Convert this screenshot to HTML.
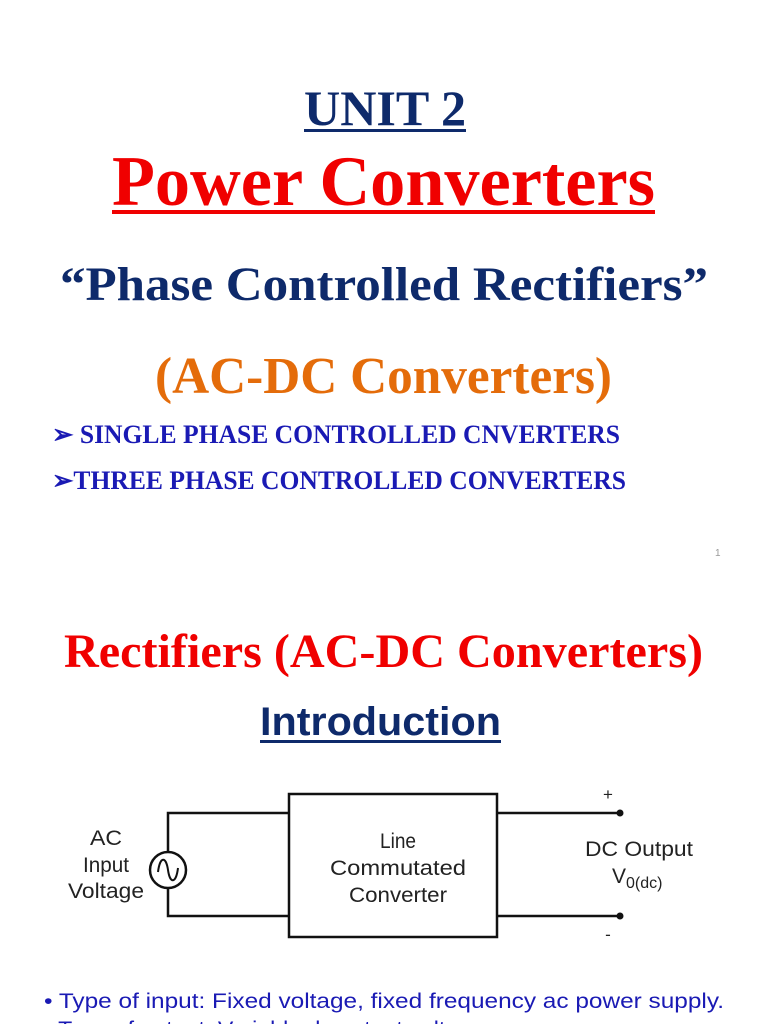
<!DOCTYPE html>
<html><head><meta charset="utf-8"><style>html,body{margin:0;padding:0;background:#fff}svg{display:block}</style></head>
<body>
<svg width="768" height="1024" viewBox="0 0 768 1024" xmlns="http://www.w3.org/2000/svg">
<g font-family="Liberation Serif, serif" font-weight="bold">
<text x="304" y="125" font-size="50" fill="#0e2a6b" textLength="162" lengthAdjust="spacingAndGlyphs">UNIT 2</text>
<rect x="304" y="129" width="162" height="3" fill="#0e2a6b"/>
<text x="112" y="205" font-size="71" fill="#f00000" textLength="543" lengthAdjust="spacingAndGlyphs">Power Converters</text>
<rect x="112" y="210" width="543" height="4" fill="#f00000"/>
<text x="60" y="300" font-size="48" fill="#0e2a6b" textLength="648" lengthAdjust="spacingAndGlyphs">“Phase Controlled Rectifiers”</text>
<text x="155" y="393" font-size="52" fill="#e46c0a" textLength="457" lengthAdjust="spacingAndGlyphs">(AC-DC Converters)</text>
<text x="52" y="443" font-size="26" fill="#1a1ab4" textLength="568" lengthAdjust="spacingAndGlyphs">➢ SINGLE PHASE CONTROLLED CNVERTERS</text>
<text x="52" y="489" font-size="26" fill="#1a1ab4" textLength="574" lengthAdjust="spacingAndGlyphs">➢THREE PHASE CONTROLLED CONVERTERS</text>
<text x="64" y="667" font-size="48" fill="#f00000" textLength="639" lengthAdjust="spacingAndGlyphs">Rectifiers (AC-DC Converters)</text>
</g>
<text x="715" y="556" font-size="10" fill="#999" font-family="Liberation Sans, sans-serif">1</text>
<text x="260" y="735" font-size="40" font-weight="bold" fill="#0e2a6b" font-family="Liberation Sans, sans-serif" textLength="241" lengthAdjust="spacingAndGlyphs">Introduction</text>
<rect x="260" y="740" width="241" height="3" fill="#0e2a6b"/>
<g stroke="#111" stroke-width="2.5" fill="none">
<rect x="289" y="794" width="208" height="143"/>
<polyline points="289,813 168,813 168,852"/>
<polyline points="289,916 168,916 168,888"/>
<circle cx="168" cy="870" r="18"/>
<path d="M158,872 C160,856 166,856 168,870 C170,884 176,884 178,868" stroke-width="2"/>
<line x1="497" y1="813" x2="620" y2="813"/>
<line x1="497" y1="916" x2="620" y2="916"/>
</g>
<circle cx="620" cy="813" r="3.5" fill="#111"/>
<circle cx="620" cy="916" r="3.5" fill="#111"/>
<g font-family="Liberation Sans, sans-serif" font-size="21" fill="#222" text-anchor="middle">
<text x="106" y="845" textLength="32" lengthAdjust="spacingAndGlyphs">AC</text>
<text x="106" y="872" textLength="46" lengthAdjust="spacingAndGlyphs">Input</text>
<text x="106" y="898" textLength="76" lengthAdjust="spacingAndGlyphs">Voltage</text>
<text x="398" y="848" textLength="36" lengthAdjust="spacingAndGlyphs">Line</text>
<text x="398" y="875" textLength="136" lengthAdjust="spacingAndGlyphs">Commutated</text>
<text x="398" y="902" textLength="98" lengthAdjust="spacingAndGlyphs">Converter</text>
<text x="608" y="800" font-size="17">+</text>
<text x="608" y="940" font-size="17">-</text>
<text x="639" y="856" textLength="108" lengthAdjust="spacingAndGlyphs">DC Output</text>
</g>
<text x="612" y="883" font-family="Liberation Sans, sans-serif" font-size="21" fill="#222">V<tspan font-size="16" dy="5">0(dc)</tspan></text>
<text x="44" y="1008" font-family="Liberation Sans, sans-serif" font-size="21" fill="#1a1ab4" textLength="680" lengthAdjust="spacingAndGlyphs">• Type of input: Fixed voltage, fixed frequency ac power supply.</text>
<text x="44" y="1036" font-family="Liberation Sans, sans-serif" font-size="21" fill="#1a1ab4" textLength="440" lengthAdjust="spacingAndGlyphs">• Type of output: Variable dc output voltage</text>
</svg>
</body></html>
